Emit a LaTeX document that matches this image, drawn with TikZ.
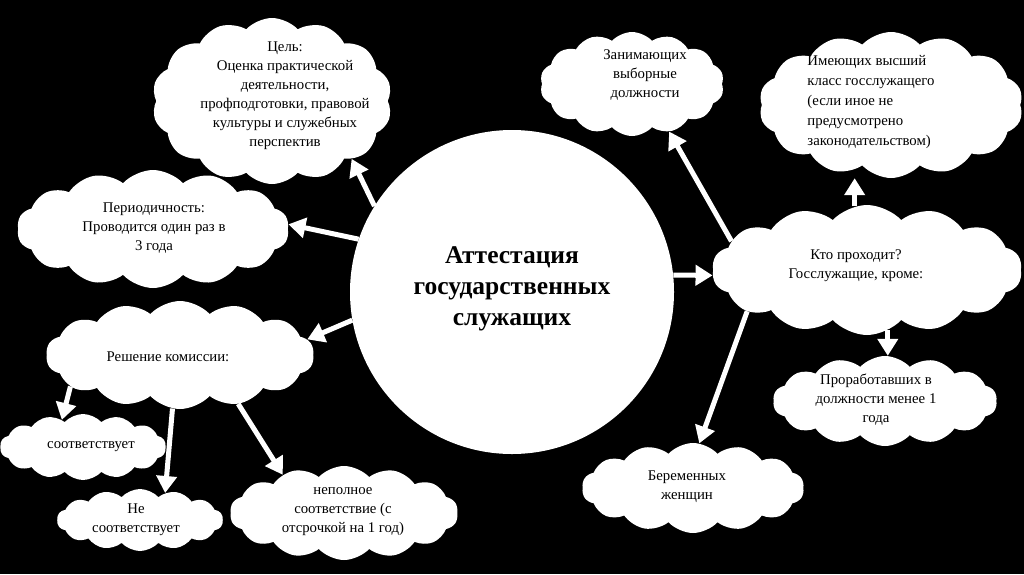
\documentclass[tikz,border=0pt]{standalone}
\usepackage{fontspec}
\setmainfont{Liberation Serif}
\usetikzlibrary{shapes.symbols,arrows.meta}
\begin{document}
\begin{tikzpicture}[x=1pt,y=-1pt,
 bubble/.style={cloud, cloud puffs=14, cloud puff arc=95, cloud ignores aspect, fill=white, draw=none, inner sep=0pt},
 txt/.style={align=center, font=\fontsize{14.8}{19}\selectfont, text=black, inner sep=0pt},
 arr/.style={draw=white, line width=5pt, -{Triangle[width=20pt,length=17pt]}}]
\fill[black] (0,0) rectangle (1024,574);
\useasboundingbox (0,0) rectangle (1024,574);

\node[circle, fill=white, minimum size=324pt, inner sep=0pt] (c) at (512,292) {};
\node[font=\bfseries\fontsize{25.5}{31}\selectfont, align=center, inner sep=0pt] (ct) at (512,289) {Аттестация\\государственных\\служащих};

\node[bubble, minimum width=240pt, minimum height=166pt] (goal) at (272,101) {};
\node[bubble, minimum width=272pt, minimum height=118pt] (per) at (153,229) {};
\node[bubble, minimum width=268pt, minimum height=108pt] (dec) at (180,355) {};
\node[bubble, minimum width=166pt, minimum height=66pt] (s1) at (83,447) {};
\node[bubble, minimum width=166pt, minimum height=62pt] (s2) at (140,520) {};
\node[bubble, minimum width=228pt, minimum height=94pt] (s3) at (344,513) {};
\node[bubble, minimum width=184pt, minimum height=104pt] (elect) at (632,84) {};
\node[bubble, minimum width=264pt, minimum height=146pt] (high) at (891,105) {};
\node[bubble, minimum width=310pt, minimum height=130pt] (who) at (867,270) {};
\node[bubble, minimum width=224pt, minimum height=90pt] (prof) at (885,401) {};
\node[bubble, minimum width=222pt, minimum height=90pt] (preg) at (693,488) {};

\node[txt] (goalt) at (285,96) {Цель:\\Оценка практической\\деятельности,\\профподготовки, правовой\\культуры и служебных\\перспектив};
\node[txt] (pert) at (154,228) {Периодичность:\\Проводится один раз в\\3 года};
\node[txt] (dect) at (168,357) {Решение комиссии:};
\node[txt] (s1t) at (91,447) {соответствует};
\node[txt] (s2t) at (136,520) {Не\\соответствует};
\node[txt] (s3t) at (343,512) {неполное\\соответствие (с\\отсрочкой на 1 год)};
\node[txt] (electt) at (645,75) {Занимающих\\выборные\\должности};
\node[txt, align=left, font=\fontsize{14.8}{20}\selectfont] (hight) at (871,102) {Имеющих высший\\класс госслужащего\\(если иное не\\предусмотрено\\законодательством)};
\node[txt] (whot) at (856,266) {Кто проходит?\\Госслужащие, кроме:};
\node[txt] (proft) at (876,400) {Проработавших в\\должности менее 1\\года};
\node[txt] (pregt) at (687,487) {Беременных\\женщин};

\draw[arr] (c.148) -- (goal.-36);
\draw[arr] (c.161) -- (per.2);
\draw[arr] (c.190) -- (dec.7);
\draw[arr] (dec.196) -- (s1.128);
\draw[arr] (dec.-98) -- (s2.47);
\draw[arr] (dec.-40) -- (s3.148);
\draw[arr] (c.6) -- (who.182);
\draw[arr] (who.168) -- (elect.-52);
\draw[arr] (who.101) -- (who.101 |- high.south);
\draw[arr] (who.-71) -- (who.-71 |- prof.north);
\draw[arr] (who.199) -- (preg.82);
\end{tikzpicture}
\end{document}
